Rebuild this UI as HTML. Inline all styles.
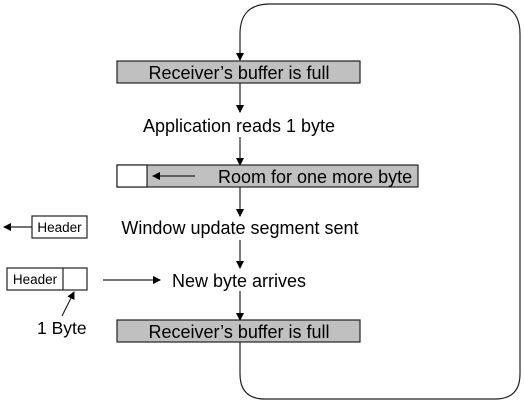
<!DOCTYPE html>
<html><head><style>html,body{margin:0;padding:0;background:#fff}</style></head>
<body>
<svg width="524" height="403" viewBox="0 0 524 403" xmlns="http://www.w3.org/2000/svg" font-family="Liberation Sans, sans-serif">
<defs><marker id="a" markerWidth="8" markerHeight="8" refX="7" refY="4" orient="auto" markerUnits="userSpaceOnUse"><path d="M0,0 L8,4 L0,8 z" fill="#000"/></marker></defs>
<g fill="none" stroke="#222" stroke-width="1.2">
<path d="M240,60 L240,34 Q240,4 270,4 L490,4 Q520,4 520,34 L520,374 Q520,399 495,399 L265,399 Q240,399 240,374 L240,342"/>
</g>
<g stroke="#222" stroke-width="1.2" fill="none">
<line x1="240" y1="50" x2="240" y2="60" marker-end="url(#a)"/>
<line x1="240" y1="83" x2="240" y2="112" marker-end="url(#a)"/>
<line x1="240" y1="137" x2="240" y2="165" marker-end="url(#a)"/>
<line x1="240" y1="187" x2="240" y2="216" marker-end="url(#a)"/>
<line x1="240" y1="240" x2="240" y2="268" marker-end="url(#a)"/>
<line x1="240" y1="291" x2="240" y2="320" marker-end="url(#a)"/>
<line x1="32" y1="227" x2="4" y2="227" marker-end="url(#a)"/>
<line x1="103" y1="280" x2="160" y2="280" marker-end="url(#a)"/>
<line x1="62" y1="316" x2="74" y2="292" marker-end="url(#a)"/>
</g>
<g stroke="#222" stroke-width="1.2">
<rect x="117" y="61" width="243" height="22" fill="#c0c0c0"/>
<rect x="117" y="165" width="301" height="22" fill="#c0c0c0"/>
<rect x="117" y="165" width="30" height="22" fill="#fff"/>
<rect x="117" y="320" width="243" height="22" fill="#c0c0c0"/>
<rect x="32" y="216" width="55" height="22" fill="#fff"/>
<rect x="7" y="268" width="80" height="22" fill="#fff"/>
<line x1="63" y1="268" x2="63" y2="290"/>
<line x1="195" y1="176" x2="153" y2="176" marker-end="url(#a)"/>
</g>
<g font-size="18" fill="#000">
<text x="239" y="79" text-anchor="middle">Receiver’s buffer is full</text>
<text x="239" y="132" text-anchor="middle">Application reads 1 byte</text>
<text x="218" y="183">Room for one more byte</text>
<text x="240" y="234" text-anchor="middle">Window update segment sent</text>
<text x="239" y="287" text-anchor="middle">New byte arrives</text>
<text x="239" y="338" text-anchor="middle">Receiver’s buffer is full</text>
<text x="37" y="334" font-size="17.5">1 Byte</text>
</g>
<g font-size="13.5" fill="#000">
<text x="59.5" y="232" text-anchor="middle">Header</text>
<text x="35" y="284" text-anchor="middle">Header</text>
</g>
</svg>
</body></html>
